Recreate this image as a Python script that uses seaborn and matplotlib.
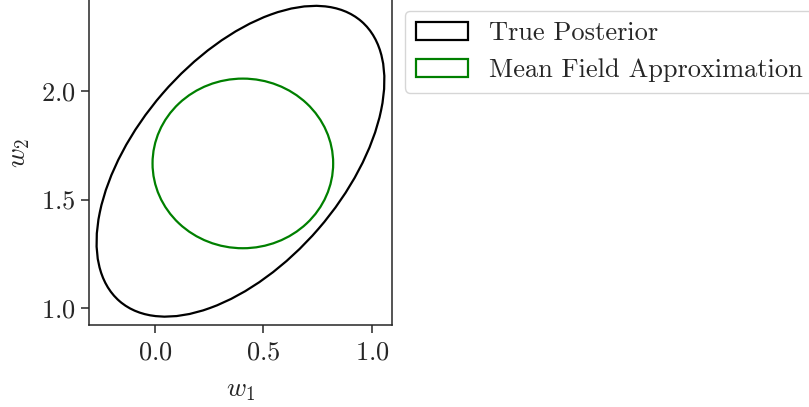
import matplotlib
matplotlib.use("Agg")
import matplotlib.pyplot as plt
from matplotlib.patches import Ellipse
import seaborn as sns

# ---- data ----
labels = ["True Posterior", "Mean Field Approximation"]
colors = ["black", "green"]
center_x = [0.394, 0.405]
center_y = [1.676, 1.666]
widths = [1.702, 0.832]
heights = [0.950, 0.780]
angles = [49.1, 0.0]

xticks = [0.0, 0.5, 1.0]
yticks = [1.0, 1.5, 2.0]
xlim = (-0.306, 1.092)
ylim = (0.923, 2.500)

sns.set_theme(style="ticks")
plt.rcParams["font.family"] = ["cmr10", "DejaVu Serif"]
plt.rcParams["mathtext.fontset"] = "cm"
plt.rcParams["axes.formatter.use_mathtext"] = True

W, H = 809, 407
fig = plt.figure(figsize=(W / 100, H / 100), dpi=100)
ax_left, ax_right, ax_bottom = 88.5, 392.0, 325.0
ax_top = 308.3 - (ylim[1] - 1.0) * 217.5
ax = fig.add_axes([ax_left / W, (H - ax_bottom) / H,
                   (ax_right - ax_left) / W, (ax_bottom - ax_top) / H])

for cx, cy, w, h, a, c, lab in zip(center_x, center_y, widths, heights, angles, colors, labels):
    e = Ellipse((cx, cy), w, h, angle=a, fill=False, edgecolor=c, lw=1.6, label=lab)
    ax.add_patch(e)

ax.set_xlim(*xlim)
ax.set_ylim(*ylim)
ax.set_xticks(xticks)
ax.set_yticks(yticks)
ax.tick_params(labelsize=19, length=6, width=1.1, colors="#262626")
ax.tick_params(axis="x", pad=5)
for s in ax.spines.values():
    s.set_linewidth(1.1)
    s.set_color("#262626")
ax.set_xlabel("$w_1$", fontsize=19.5, labelpad=11)
ax.set_ylabel("$w_2$", fontsize=19.5, labelpad=6)

leg = ax.legend(loc="upper left", bbox_to_anchor=(405 / W, 1 - 11 / H),
                bbox_transform=fig.transFigure, borderaxespad=0, fontsize=19)

fig.savefig("out.png", dpi=100)
